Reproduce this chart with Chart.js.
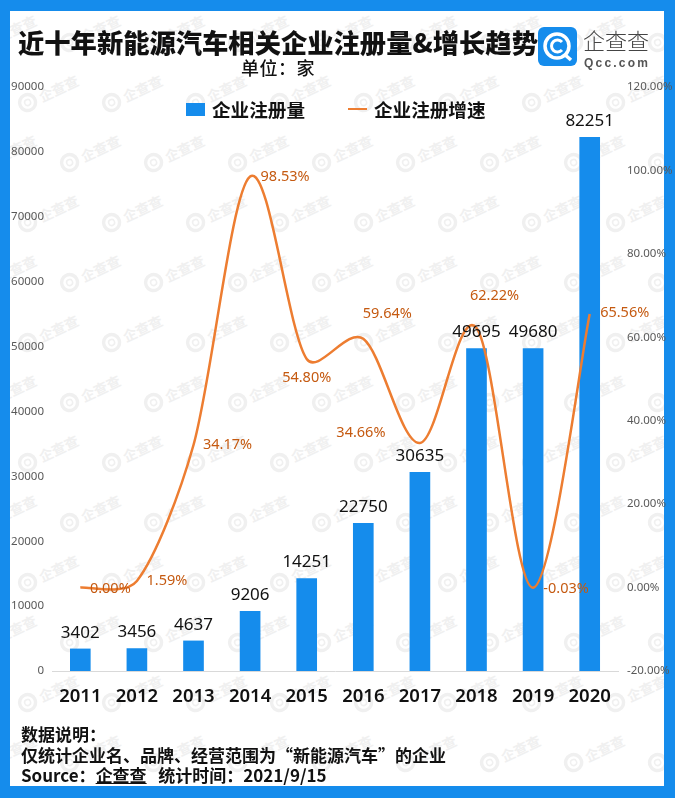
<!DOCTYPE html>
<html>
<head>
<meta charset="utf-8">
<script src="https://cdn.jsdelivr.net/npm/chart.js@4"></script>
<style>
  html, body { margin: 0; padding: 0; background: #fff; }
  body { width: 675px; height: 798px; position: relative; overflow: hidden; font-family: "Noto Sans CJK SC", sans-serif; }
  #sheet { position: absolute; left: 0; top: 0; width: 654px; height: 775px; border: solid #158cec; border-width: 11px 11px 12px 10px; background: #fff; }
  #marks { position: absolute; left: 10px; top: 11px; width: 654px; height: 775px; overflow: hidden; }
  #marks span { position: absolute; color: #f0f0f0; font-size: 14px; font-weight: 700; transform: translate(-50%, -50%) rotate(-25deg); white-space: nowrap; display: flex; align-items: center; gap: 3px; }
  canvas { position: absolute; left: 0; top: 0; }
  #title { position: absolute; left: 18px; top: 25px; font-size: 26.3px; font-weight: 900; color: #111; white-space: nowrap; line-height: 34px; }
  #unit { position: absolute; left: 241px; top: 55px; font-size: 18px; font-weight: 500; color: #111; line-height: 24px; letter-spacing: 0.5px; }
  #logo { position: absolute; left: 538px; top: 27px; }
  #logoName { position: absolute; left: 583px; top: 23px; font-size: 22px; font-weight: 300; color: #444; line-height: 32px; }
  #logoUrl { position: absolute; left: 584px; top: 55px; font-family: "Liberation Sans"; font-size: 12px; font-weight: 700; color: #555; letter-spacing: 2.2px; line-height: 16px; }
  #legend { position: absolute; left: 186px; top: 96px; display: flex; align-items: center; font-size: 18.6px; font-weight: 700; color: #111; line-height: 26px; white-space: nowrap; }
  #legend i { display: block; width: 19px; }
  #legend .bar { height: 13px; background: #158cec; margin-right: 7px; }
  #legend .line { height: 2px; background: #ed7d31; margin: 0 7px 0 43px; }
  #note { position: absolute; left: 21px; top: 724px; font-size: 17px; font-weight: 700; color: #111; line-height: 20.5px; white-space: nowrap; }
</style>
</head>
<body>
<div id="sheet"></div>
<div id="marks"></div>
<canvas id="chart" width="675" height="798"></canvas>
<div id="title">近十年新能源汽车相关企业注册量&amp;增长趋势</div>
<div id="unit">单位：家</div>
<svg id="logo" width="39" height="39" viewBox="0 0 39 39">
  <rect width="39" height="39" rx="6" fill="#158cec"/>
  <circle cx="19" cy="19" r="12" fill="none" stroke="#fff" stroke-width="3.5"/>
  <path d="M24 15 A6 6 0 1 0 24 23" fill="none" stroke="#fff" stroke-width="3"/>
  <line x1="26" y1="27" x2="33" y2="33" stroke="#fff" stroke-width="3.5"/>
</svg>
<div id="logoName">企查查</div>
<div id="logoUrl">Qcc.com</div>
<div id="legend"><i class="bar"></i>企业注册量<i class="line"></i>企业注册增速</div>
<div id="note">数据说明：<br>仅统计企业名、品牌、经营范围为“新能源汽车”的企业<br>Source：<u>企查查</u>&nbsp;&nbsp;&nbsp;统计时间：2021/9/15</div>
<script>
const years = ["2011", "2012", "2013", "2014", "2015", "2016", "2017", "2018", "2019", "2020"];
const registrations = [3402, 3456, 4637, 9206, 14251, 22750, 30635, 49695, 49680, 82251];
const growthRates = [0, 1.59, 34.17, 98.53, 54.80, 59.64, 34.66, 62.22, -0.03, 65.56];
const growthLabels = ["0.00%", "1.59%", "34.17%", "98.53%", "54.80%", "59.64%", "34.66%", "62.22%", "-0.03%", "65.56%"];

// hand placed so the labels dodge the curve, same as the original
const growthLabelShift = [[30, 1], [30, 0], [34, 0], [35, 0], [0, 19], [24, -25], [-59, -10], [18, -32], [33, 1], [35, -1]];

// faint watermark behind everything
const marks = document.getElementById("marks");
for (let row = 0; row < 13; row++) {
    for (let col = 0; col < 9; col++) {
        const s = document.createElement("span");
        s.innerHTML = '<svg width="20" height="20" viewBox="0 0 20 20"><circle cx="10" cy="10" r="8" fill="none" stroke="#f0f0f0" stroke-width="3.5"/><circle cx="10" cy="10" r="3" fill="none" stroke="#f0f0f0" stroke-width="1.5"/></svg>企查查';
        s.style.left = (col * 84 + (row % 2) * 42 - 4) + "px";
        s.style.top = (row * 60 + 22) + "px";
        marks.appendChild(s);
    }
}

// the original curve looks like an Excel smoothed line: same tangent on both sides
// of a point, handles cut down next to short segments
const smoothCurve = {
    id: "smoothCurve",
    beforeDatasetsDraw(chart) {
        const line = chart.getDatasetMeta(0).dataset;
        const pts = line.points;
        pts.forEach((p, i) => {
            const prev = pts[Math.max(i - 1, 0)];
            const next = pts[Math.min(i + 1, pts.length - 1)];
            const dx = (next.x - prev.x) / 6;
            const dy = (next.y - prev.y) / 6;
            const handle = Math.hypot(dx, dy) || 1;
            const back = Math.min(1, Math.hypot(p.x - prev.x, p.y - prev.y) / 3 / handle);
            const ahead = Math.min(1, Math.hypot(next.x - p.x, next.y - p.y) / 3 / handle);
            p.cp1x = p.x - dx * back;
            p.cp1y = p.y - dy * back;
            p.cp2x = p.x + dx * ahead;
            p.cp2y = p.y + dy * ahead;
        });
        line._pointsUpdated = true;
    }
};

const labelPlugin = {
    id: "valueLabels",
    afterDatasetsDraw(chart) {
        const ctx = chart.ctx;
        const bars = chart.getDatasetMeta(1).data;
        const points = chart.getDatasetMeta(0).data;
        ctx.save();
        ctx.textAlign = "center";
        ctx.textBaseline = "middle";
        ctx.font = '17px "Noto Sans", sans-serif';
        ctx.fillStyle = "#111";
        bars.forEach((bar, i) => {
            ctx.fillText(registrations[i], bar.x, bar.y - 16);
        });
        ctx.font = '14.5px "Noto Sans", sans-serif';
        ctx.fillStyle = "#c55a11";
        points.forEach((pt, i) => {
            const shift = growthLabelShift[i];
            ctx.fillText(growthLabels[i], pt.x + shift[0], pt.y + shift[1]);
        });
        ctx.restore();
    }
};

new Chart(document.getElementById("chart"), {
    type: "bar",
    data: {
        labels: years,
        datasets: [
            {
                type: "line",
                label: "企业注册增速",
                data: growthRates,
                yAxisID: "y2",
                borderColor: "#ed7d31",
                borderWidth: 2.5,
                backgroundColor: "#ed7d31",
                tension: 0.5,
                pointRadius: 0,
                order: 1
            },
            {
                label: "企业注册量",
                data: registrations,
                yAxisID: "y",
                backgroundColor: "#158cec",
                barThickness: 20,
                order: 2
            }
        ]
    },
    plugins: [smoothCurve, labelPlugin],
    options: {
        responsive: false,
        animation: false,
        layout: { padding: { top: 87, left: 0, right: 0, bottom: 0 } },
        plugins: {
            tooltip: { enabled: false },
            legend: { display: false }
        },
        scales: {
            x: {
                grid: { display: false },
                border: { color: "#d9d9d9" },
                ticks: { color: "#111", padding: 7, font: { family: '"Noto Sans"', size: 18.5, weight: "600" } },
                afterFit(scale) { scale.height = 127; }
            },
            y: {
                min: 0,
                max: 90000,
                grid: { display: false },
                border: { display: false },
                ticks: {
                    stepSize: 10000,
                    color: "#595959",
                    padding: 0,
                    font: { family: '"Noto Sans"', size: 11.5 },
                    callback: v => String(v)
                },
                afterFit(scale) { scale.width = 52; }
            },
            y2: {
                position: "right",
                min: -20,
                max: 120,
                grid: { display: false },
                border: { display: false },
                ticks: {
                    stepSize: 20,
                    color: "#595959",
                    padding: 1,
                    font: { family: '"Noto Sans"', size: 11.5 },
                    callback: v => v.toFixed(2) + "%"
                },
                afterFit(scale) { scale.width = 57; }
            }
        }
    }
});
</script>
</body>
</html>
